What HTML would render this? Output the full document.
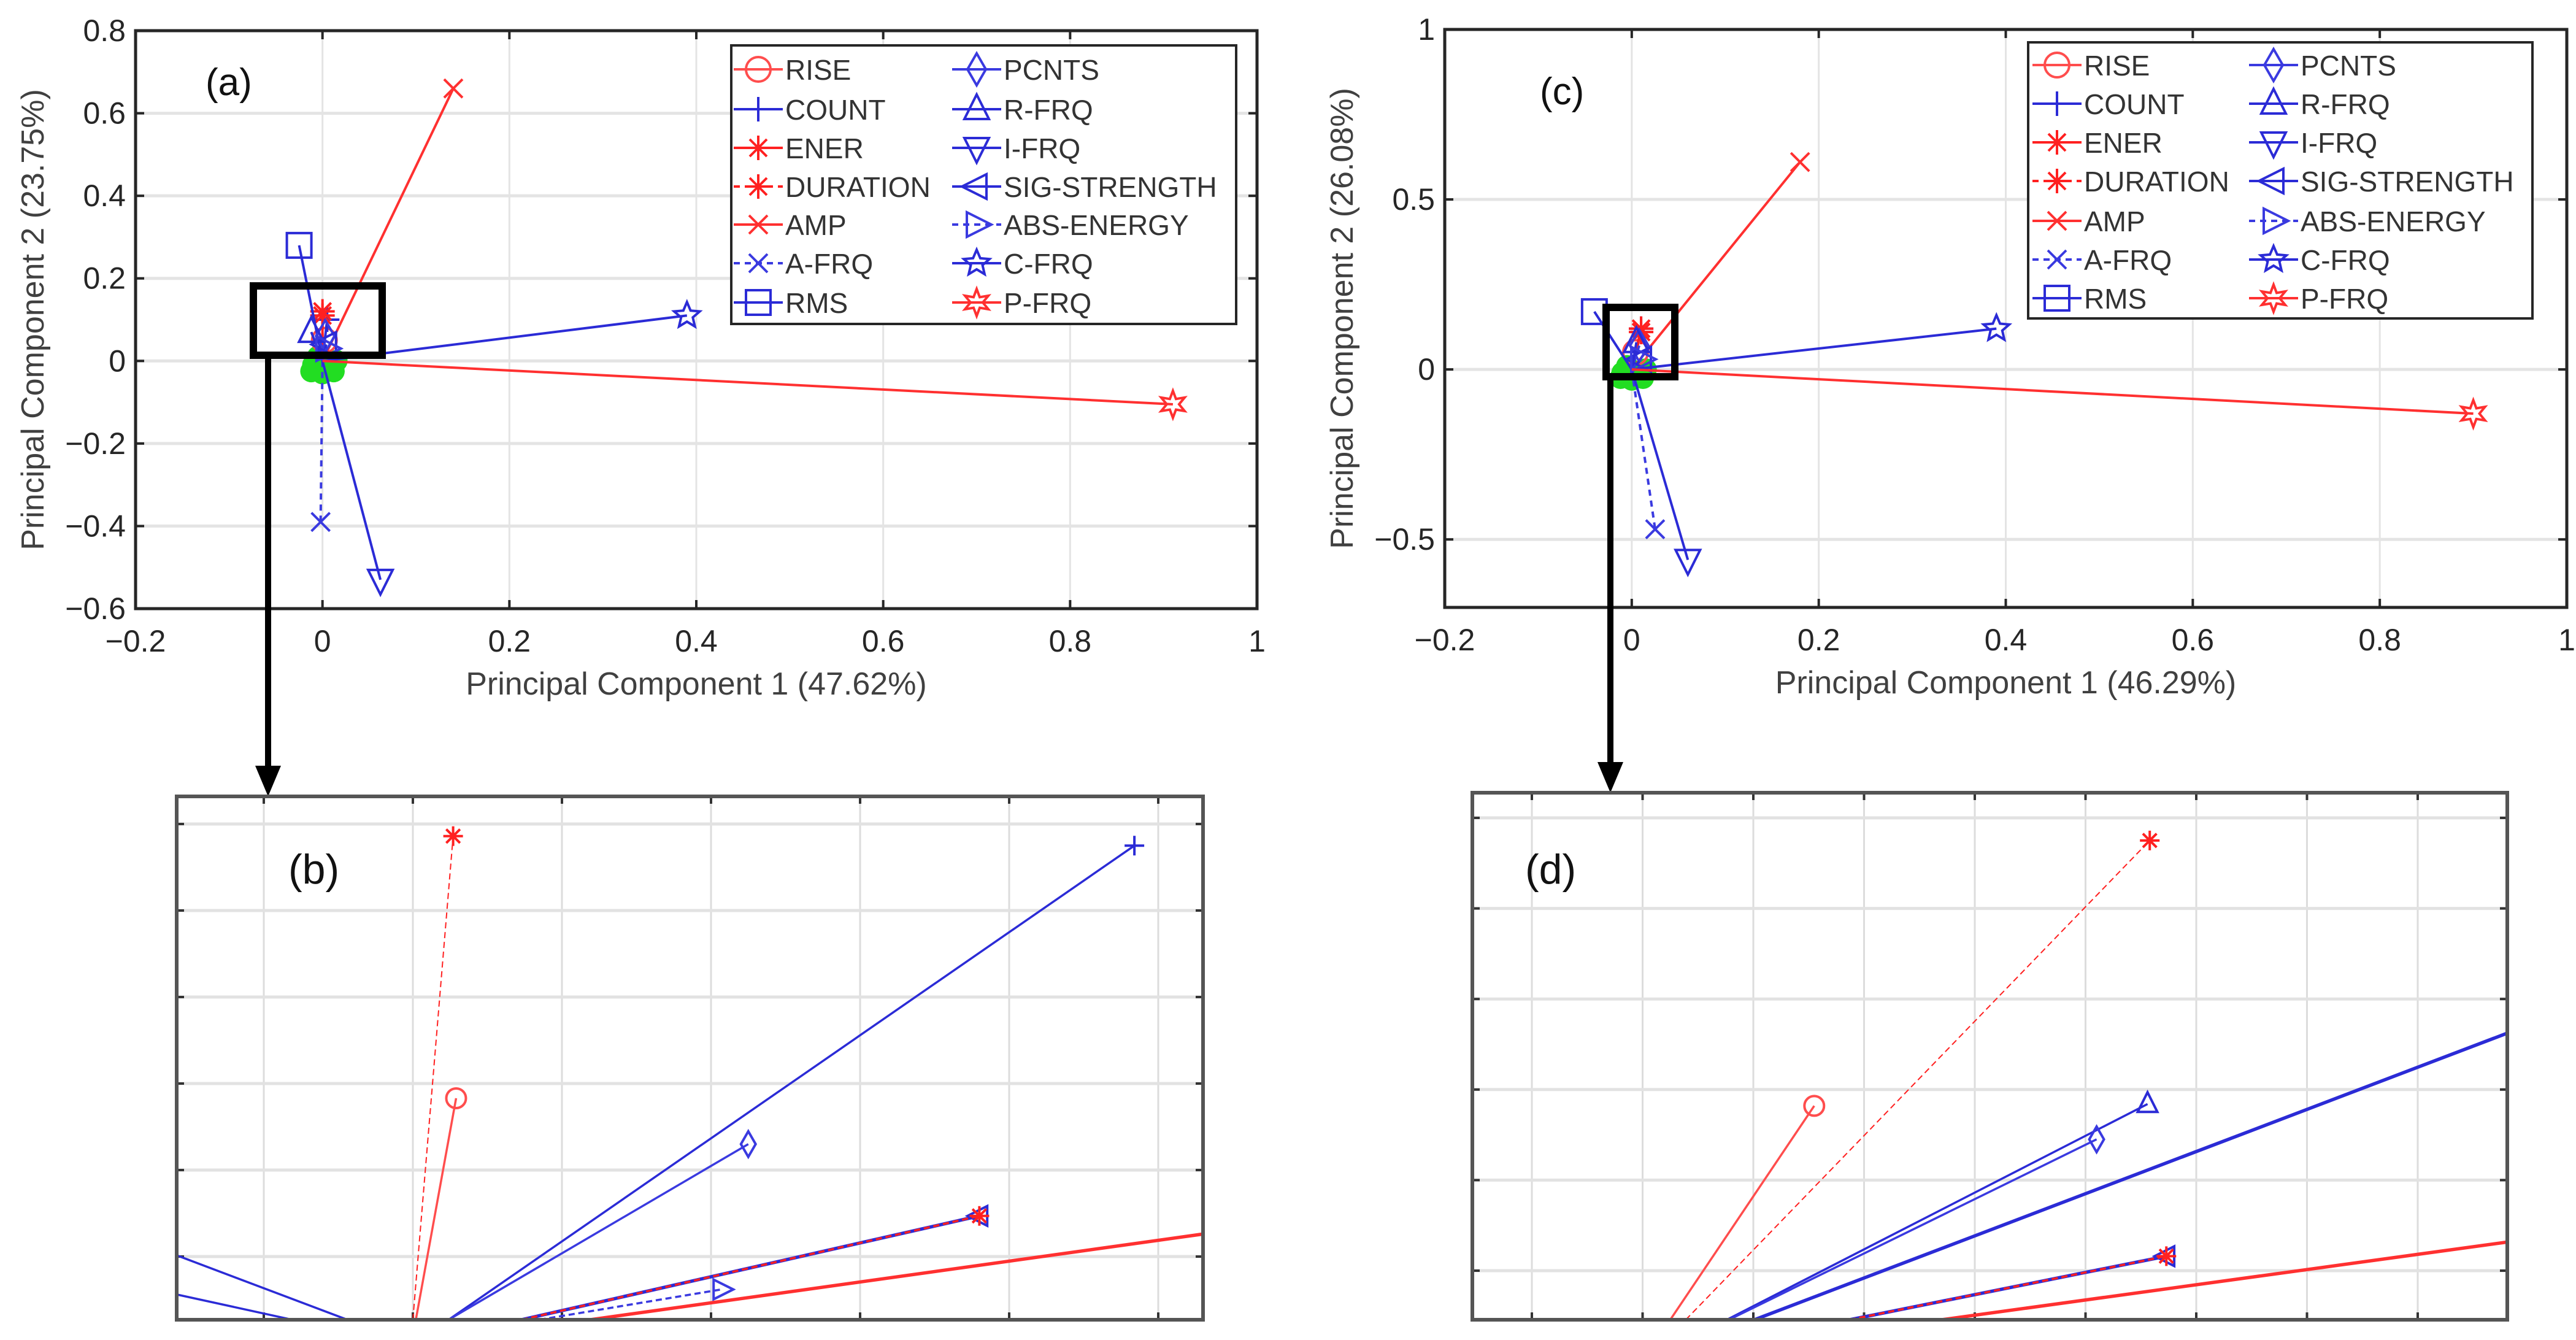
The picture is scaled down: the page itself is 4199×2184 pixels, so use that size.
<!DOCTYPE html>
<html><head><meta charset="utf-8"><style>
html,body{margin:0;padding:0;background:#fff;}
svg{display:block;font-family:"Liberation Sans",Arial,sans-serif;}
</style></head><body>
<svg id="fig" width="4199" height="2184" viewBox="0 0 4199 2184" xmlns="http://www.w3.org/2000/svg"></svg>
<script>
// ---------- DATA ----------
const seriesNames = ["RISE","COUNT","ENER","DURATION","AMP","A-FRQ","RMS","PCNTS","R-FRQ","I-FRQ","SIG-STRENGTH","ABS-ENERGY","C-FRQ","P-FRQ"];
const seriesMarkers = ["circle","plus","asterisk","asterisk","x","x","square","diamond","tri-up","tri-down","tri-left","tri-right","pentagram","hexagram"];
const seriesColors = ["#ff4d4d","#2b2bd6","#ff2020","#ff2020","#ff3030","#3a3ae0","#2b2bd6","#3a3ae0","#2b2bd6","#2b2bd6","#2b2bd6","#3a3ae0","#2b2bd6","#ff3030"];
const seriesDash = [false,false,false,true,false,true,false,false,false,false,false,true,false,false];
// panel (a) loadings
const aPC1 = [0.002,0.005,0.0,0.0,0.14,-0.002,-0.025,0.003,-0.012,0.062,0.004,0.004,0.39,0.91];
const aPC2 = [0.05,0.10,0.12,0.11,0.66,-0.39,0.28,0.06,0.07,-0.53,0.04,0.03,0.11,-0.105];
// panel (c) loadings
const cPC1 = [0.004,0.01,0.01,0.01,0.18,0.025,-0.04,0.008,0.005,0.06,0.01,0.01,0.39,0.90];
const cPC2 = [0.05,0.12,0.12,0.11,0.61,-0.47,0.17,0.07,0.08,-0.56,0.03,0.03,0.12,-0.13];
const aXTicks = [-0.2,0,0.2,0.4,0.6,0.8,1];
const aYTicks = [-0.6,-0.4,-0.2,0,0.2,0.4,0.6,0.8];
const cXTicks = [-0.2,0,0.2,0.4,0.6,0.8,1];
const cYTicks = [-0.5,0,0.5,1];
// zoom panel (b): grid units
const bNames = ["ENER","RISE","COUNT","PCNTS","SIG-STRENGTH","DURATION","ABS-ENERGY","P-FRQ","RMS","R-FRQ"];
const bX0 = [1.00,1.02,1.24,1.24,1.73,1.73,1.85,2.19,0.56,0.19];
const bY0 = [0.27,0.27,0.27,0.27,0.27,0.27,0.27,0.27,0.27,0.27];
const bX1 = [1.27,1.29,5.84,3.25,4.80,4.80,3.07,8.25,-1.70,-1.35];
const bY1 = [5.86,2.83,5.75,2.30,1.47,1.47,0.62,1.73,1.74,0.85];
// zoom panel (d)
const dNames = ["ENER","RISE","R-FRQ","PCNTS","COUNT","SIG-STRENGTH","DURATION","P-FRQ"];
const dX0 = [1.39,1.25,1.76,1.78,2.01,2.87,2.87,3.70];
const dY0 = [0.458,0.458,0.458,0.458,0.458,0.458,0.458,0.458];
const dX1 = [5.58,2.55,5.56,5.10,10.5,5.73,5.73,10.5];
const dY1 = [5.75,2.82,2.84,2.45,4.41,1.16,1.16,1.60];

// ---------- HELPERS ----------
const NS="http://www.w3.org/2000/svg";
const svg=document.getElementById('fig');
function mk(tag,attrs,parent){const e=document.createElementNS(NS,tag);for(const k in attrs)e.setAttribute(k,attrs[k]);(parent||svg).appendChild(e);return e;}
function marker(g,type,x,y,s,color){
  const st={fill:'none',stroke:color,'stroke-width':4};
  let e;
  const tri=(pts)=>mk('polygon',Object.assign({points:pts.map(p=>(x+p[0]*s)+','+(y+p[1]*s)).join(' ')},st),g);
  if(type==='circle')e=mk('circle',Object.assign({cx:x,cy:y,r:s},st),g);
  else if(type==='square')e=mk('rect',Object.assign({x:x-s,y:y-s,width:2*s,height:2*s},st),g);
  else if(type==='plus')e=mk('path',Object.assign({d:`M${x-s} ${y}H${x+s}M${x} ${y-s}V${y+s}`},st),g);
  else if(type==='x')e=mk('path',Object.assign({d:`M${x-s*.75} ${y-s*.75}L${x+s*.75} ${y+s*.75}M${x-s*.75} ${y+s*.75}L${x+s*.75} ${y-s*.75}`},st),g);
  else if(type==='asterisk')e=mk('path',Object.assign({d:`M${x-s} ${y}H${x+s}M${x} ${y-s}V${y+s}M${x-s*.7} ${y-s*.7}L${x+s*.7} ${y+s*.7}M${x-s*.7} ${y+s*.7}L${x+s*.7} ${y-s*.7}`},st),g);
  else if(type==='diamond')e=tri([[0,-1.3],[0.75,0],[0,1.3],[-0.75,0]]);
  else if(type==='tri-up')e=tri([[0,-1.2],[1,0.8],[-1,0.8]]);
  else if(type==='tri-down')e=tri([[0,1.2],[1,-0.8],[-1,-0.8]]);
  else if(type==='tri-left')e=tri([[-1.2,0],[0.8,-1],[0.8,1]]);
  else if(type==='tri-right')e=tri([[1.2,0],[-0.8,-1],[-0.8,1]]);
  else if(type==='pentagram'||type==='hexagram'){
    const n=type==='pentagram'?5:6,pts=[];
    for(let i=0;i<2*n;i++){const r=i%2?0.5:1.1,a=-Math.PI/2+i*Math.PI/n;pts.push([r*Math.cos(a),r*Math.sin(a)]);}
    e=tri(pts);
  }
  return e;
}

// ---------- TOP PANELS ----------
function topPanel(id,L,R,T,B,xmin,xmax,ymin,ymax,xt,yt,px,py,label,xtitle,ytitle,leg,box,arrowX,arrowTip){
  const g=mk('g',{});
  
  
  const X=v=>L+(v-xmin)/(xmax-xmin)*(R-L), Y=v=>B-(v-ymin)/(ymax-ymin)*(B-T);
  xt.forEach(v=>{const l=mk('line',{x1:X(v),x2:X(v),y1:T,y2:B,stroke:'#e4e4e4','stroke-width':3},g);});
  yt.forEach(v=>{const l=mk('line',{x1:L,x2:R,y1:Y(v),y2:Y(v),stroke:'#e4e4e4','stroke-width':5},g);});
  const bx=mk('rect',{x:L,y:T,width:R-L,height:B-T,fill:'none',stroke:'#262626','stroke-width':5},g);
  
  xt.forEach(v=>{mk('line',{x1:X(v),x2:X(v),y1:B,y2:B-14,stroke:'#262626','stroke-width':4},g);mk('line',{x1:X(v),x2:X(v),y1:T,y2:T+14,stroke:'#262626','stroke-width':4},g);
    const t=mk('text',{x:X(v),y:B+70,'text-anchor':'middle','font-size':50,fill:'#262626'},g);t.textContent=String(v).replace('-','\u2212');
    });
  yt.forEach(v=>{mk('line',{x1:L,x2:L+14,y1:Y(v),y2:Y(v),stroke:'#262626','stroke-width':4},g);mk('line',{x1:R,x2:R-14,y1:Y(v),y2:Y(v),stroke:'#262626','stroke-width':4},g);
    const t=mk('text',{x:L-16,y:Y(v)+17,'text-anchor':'end','font-size':50,fill:'#262626'},g);t.textContent=String(v).replace('-','\u2212');
    });
  const xtl=mk('text',{x:(L+R)/2,y:B+140,'text-anchor':'middle','font-size':52,fill:'#404040'},g);xtl.textContent=xtitle;
  
  const ytl=mk('text',{x:0,y:0,'text-anchor':'middle','font-size':52,fill:'#404040',transform:`translate(${L-150},${(T+B)/2}) rotate(-90)`},g);ytl.textContent=ytitle;
  
  const blob=mk('g',{},g);
  [[-0.01,-0.01],[0.005,-0.02],[0.015,0.0],[-0.005,0.01],[0.0,-0.03],[0.012,-0.025],[-0.012,-0.025]].forEach(p=>mk('circle',{cx:X(p[0]),cy:Y(p[1]),r:18,fill:'#22dd22'},blob));
  seriesNames.forEach((n,i)=>{
    const vg=mk('g',{},g);
    
    
    const a={x1:X(0),y1:Y(0),x2:X(px[i]),y2:Y(py[i]),stroke:seriesColors[i],'stroke-width':4};
    if(seriesDash[i])a['stroke-dasharray']='10 8';
    mk('line',a,vg);
    marker(vg,seriesMarkers[i],X(px[i]),Y(py[i]),20,seriesColors[i]);
  });
  const lt=mk('text',{x:label[0],y:label[1],'font-size':62,fill:'#111'},g);lt.textContent=label[2];
  
  const lg=mk('g',{},g);
  mk('rect',{x:leg.x,y:leg.y,width:leg.w,height:leg.h,fill:'#fff',stroke:'#262626','stroke-width':4},lg);
  seriesNames.forEach((n,i)=>{
    const col=i<7?0:1,row=i%7;
    const mx=leg.mx[col],yy=leg.rows[row];
    const eg=mk('g',{},lg);
    
    
    const a={x1:mx-40,x2:mx+40,y1:yy,y2:yy,stroke:seriesColors[i],'stroke-width':4};
    if(seriesDash[i])a['stroke-dasharray']='10 8';
    mk('line',a,eg);
    marker(eg,seriesMarkers[i],mx,yy,20,seriesColors[i]);
    const t=mk('text',{x:mx+44,y:yy+17,'font-size':46,fill:'#333'},eg);t.textContent=n;
  });
  const zb=mk('rect',{x:box[0],y:box[1],width:box[2],height:box[3],fill:'none',stroke:'#000','stroke-width':12},g);
  
  const ar=mk('g',{},g);
  mk('line',{x1:arrowX,x2:arrowX,y1:box[1]+box[3],y2:arrowTip-40,stroke:'#000','stroke-width':10},ar);
  mk('polygon',{points:`${arrowX-21},${arrowTip-50} ${arrowX+21},${arrowTip-50} ${arrowX},${arrowTip}`,fill:'#000'},ar);
}
topPanel('a',221,2049,50,992,-0.2,1,-0.6,0.8,aXTicks,aYTicks,aPC1,aPC2,[335,155,'(a)'],'Principal Component 1 (47.62%)','Principal Component 2 (23.75%)',
  {x:1192,y:74,w:823,h:454,mx:[1236,1592],rows:[113,178,241,304,366,429,493]},[413,466,210,113],437,1298);
topPanel('c',2355,4184,48,990,-0.2,1,-0.7,1,cXTicks,cYTicks,cPC1,cPC2,[2510,170,'(c)'],'Principal Component 1 (46.29%)','Principal Component 2 (26.08%)',
  {x:3306,y:69,w:822,h:450,mx:[3353,3706],rows:[106,169,232,295,360,423,486]},[2618,501,112,113],2625,1292);

// ---------- ZOOM PANELS ----------
function zoomPanel(id,L,R,T,B,gx0,gdx,gy1,gdy,nx,ny,names,x0,y0,x1,y1,label){
  const g=mk('g',{});
  
  
  const X=v=>gx0+v*gdx, Y=v=>gy1-(v-1)*gdy;
  const cp=mk('clipPath',{id:'clip-'+id},g);mk('rect',{x:L,y:T,width:R-L,height:B-T},cp);
  for(let i=0;i<nx;i++){const l=mk('line',{x1:X(i),x2:X(i),y1:T,y2:B,stroke:'#dcdcdc','stroke-width':3},g);
    mk('line',{x1:X(i),x2:X(i),y1:T,y2:T+12,stroke:'#333','stroke-width':4},g);mk('line',{x1:X(i),x2:X(i),y1:B,y2:B-12,stroke:'#333','stroke-width':4},g);}
  for(let j=1;j<=ny;j++){const l=mk('line',{x1:L,x2:R,y1:Y(j),y2:Y(j),stroke:'#e2e2e2','stroke-width':5},g);
    mk('line',{x1:L,x2:L+12,y1:Y(j),y2:Y(j),stroke:'#333','stroke-width':4},g);mk('line',{x1:R,x2:R-12,y1:Y(j),y2:Y(j),stroke:'#333','stroke-width':4},g);}
  const vg=mk('g',{'clip-path':`url(#clip-${id})`},g);
  names.forEach((n,i)=>{
    const k=seriesNames.indexOf(n);
    const lg=mk('g',{},vg);
    
    
    const thick=(n==='P-FRQ'||n==='COUNT'&&id==='d'||n==='SIG-STRENGTH')?5.5:3.5;
    const a={x1:X(x0[i]),y1:Y(y0[i]),x2:X(x1[i]),y2:Y(y1[i]),stroke:seriesColors[k],'stroke-width':thick};
    if(seriesDash[k]||n==='ENER')a['stroke-dasharray']='10 6';
    if(n==='ENER')a['stroke-width']=2;
    mk('line',a,lg);
    marker(lg,seriesMarkers[k],X(x1[i]),Y(y1[i]),16,seriesColors[k]);
  });
  const bx=mk('rect',{x:L,y:T,width:R-L,height:B-T,fill:'none',stroke:'#555','stroke-width':6},g);
  
  const lt=mk('text',{x:label[0],y:label[1],'font-size':68,fill:'#111'},g);lt.textContent=label[2];
  
}
zoomPanel('b',288,1961,1298,2151,430,243,2048,141,7,6,bNames,bX0,bY0,bX1,bY1,[470,1440,'(b)']);
zoomPanel('d',2400,4087,1292,2151,2497,180.5,2071,147.6,9,6,dNames,dX0,dY0,dX1,dY1,[2486,1440,'(d)']);
</script>
</body></html>
